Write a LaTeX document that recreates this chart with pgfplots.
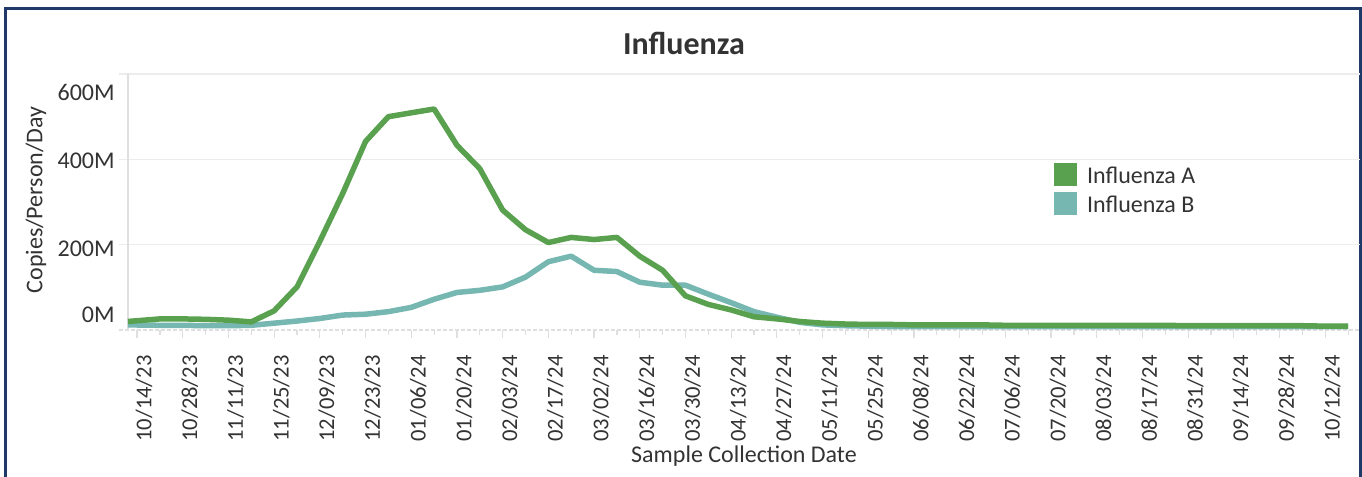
\documentclass[border=0pt]{standalone}
\usepackage{fontspec}
\setmainfont{Carlito}
\usepackage{pgfplots}
\usepackage{pgfplotstable}
\pgfplotsset{compat=1.18}
\definecolor{fluA}{HTML}{59A14F}
\definecolor{fluB}{HTML}{76B7B2}
\definecolor{framecol}{HTML}{1F3A68}
\definecolor{txt}{HTML}{333333}
\pgfplotstableread{
w v
-0.4 20
1 26
2 26
3 25
4 23
5 19
6 45
7 101
8 208
9 320
10 442
11 500
12 509
13 518
14 433
15 378
16 281
17 235
18 205
19 217
20 212
21 217
22 173
23 140
24 80
25 60
26 47
27 31
28 26
29 20
30 16
31 14
32 13
33 13
34 12
35 12
36 12
37 12
38 11
39 11
40 11
41 11
42 11
43 11
44 11
45 11
46 10
47 10
48 10
49 10
50 10
51 10
52 9
53 9
}\dataA
\pgfplotstableread{
w v
-0.4 12
1 11
2 11
3 10
4 10
5 11
6 16
7 21
8 27
9 35
10 37
11 43
12 53
13 72
14 88
15 93
16 101
17 124
18 160
19 173
20 140
21 137
22 112
23 105
24 105
25 84
26 64
27 43
28 30
29 18
30 12
31 10
32 9
33 8
34 8
35 8
36 8
37 8
38 8
39 8
40 8
41 8
42 8
43 8
44 8
45 8
46 8
47 8
48 8
49 8
50 8
51 8
52 8
53 8
}\dataB
\begin{document}
\begin{tikzpicture}[ylab/.style={anchor=east, xshift=-2pt, inner sep=0pt, font=\fontsize{12}{14}\selectfont, text=txt}]
\useasboundingbox (0,0) rectangle (681pt,238.5pt);
\draw[framecol, line width=1.5pt] (2.75pt,-2pt) -- (2.75pt,234.25pt) -- (680.25pt,234.25pt) -- (680.25pt,-2pt);
\node[font=\bfseries\fontsize{16}{19}\selectfont, text=txt] at (342pt,217pt) {Influenza};
\node[rotate=90, font=\fontsize{12}{14}\selectfont, text=txt] at (18pt,138.5pt) {Copies/Person/Day};
\node[anchor=base, font=\fontsize{12}{14}\selectfont, text=txt] at (372pt,7pt) {Sample Collection Date};
\begin{axis}[
  at={(59.5pt,73.5pt)}, anchor=south west,
  scale only axis, width=620.5pt, height=128pt,
  xmin=-0.79, xmax=53.52, ymin=0, ymax=600,
  axis line style={draw=none},
  xtick={0,2,...,52},
  minor xtick={1,3,...,53},
  xticklabels={10/14/23,10/28/23,11/11/23,11/25/23,12/09/23,12/23/23,01/06/24,01/20/24,02/03/24,02/17/24,03/02/24,03/16/24,03/30/24,04/13/24,04/27/24,05/11/24,05/25/24,06/08/24,06/22/24,07/06/24,07/20/24,08/03/24,08/17/24,08/31/24,09/14/24,09/28/24,10/12/24},
  xtick pos=left, tick align=outside,
  major tick length=4pt, minor tick length=2.5pt,
  x tick style={draw=gray!25, line width=0.6pt},
  xticklabel style={font=\fontsize{11.3}{13}\selectfont, text=txt, inner sep=0pt, xshift=3.5pt, rotate=90, anchor=east},
  xticklabel shift=8.5pt,
  ytick={200,400,600}, yticklabels={}, ytick style={draw=none},
  ymajorgrids, major grid style={draw=gray!15, line width=0.6pt},
  clip=false,
  legend style={at={(0.7536,0.6504)}, anchor=north west, draw=none, fill=none,
    inner sep=0pt, outer sep=0pt, row sep=2.8pt,
    font=\fontsize{12}{14}\selectfont, text=txt, nodes={inner sep=0pt},
    /tikz/every odd column/.append style={column sep=4.9pt}},
  legend cell align=left,
  reverse legend,
  legend image code/.code={\fill[#1, draw=none] (0pt,-4.9pt) rectangle (11.5pt,6.6pt);},
]
\draw[gray!25, line width=0.6pt] (axis cs:-0.4,0) -- (axis cs:-0.4,600);
\draw[gray!25, line width=0.6pt, dash pattern=on 2pt off 1pt] (rel axis cs:0,0) -- (rel axis cs:1,0);
\node[ylab, yshift=-9pt] at (axis cs:-0.79,600) {600M};
\node[ylab, yshift=-0.5pt] at (axis cs:-0.79,400) {400M};
\node[ylab, yshift=-2pt] at (axis cs:-0.79,200) {200M};
\node[ylab, yshift=7.5pt] at (axis cs:-0.79,0) {0M};
\addplot[color=fluB, line width=2.75pt, line join=round] table[x=w, y=v] {\dataB};
\addlegendentry{Influenza B}
\addplot[color=fluA, line width=2.75pt, line join=round] table[x=w, y=v] {\dataA};
\addlegendentry{Influenza A}
\end{axis}
\end{tikzpicture}
\end{document}
